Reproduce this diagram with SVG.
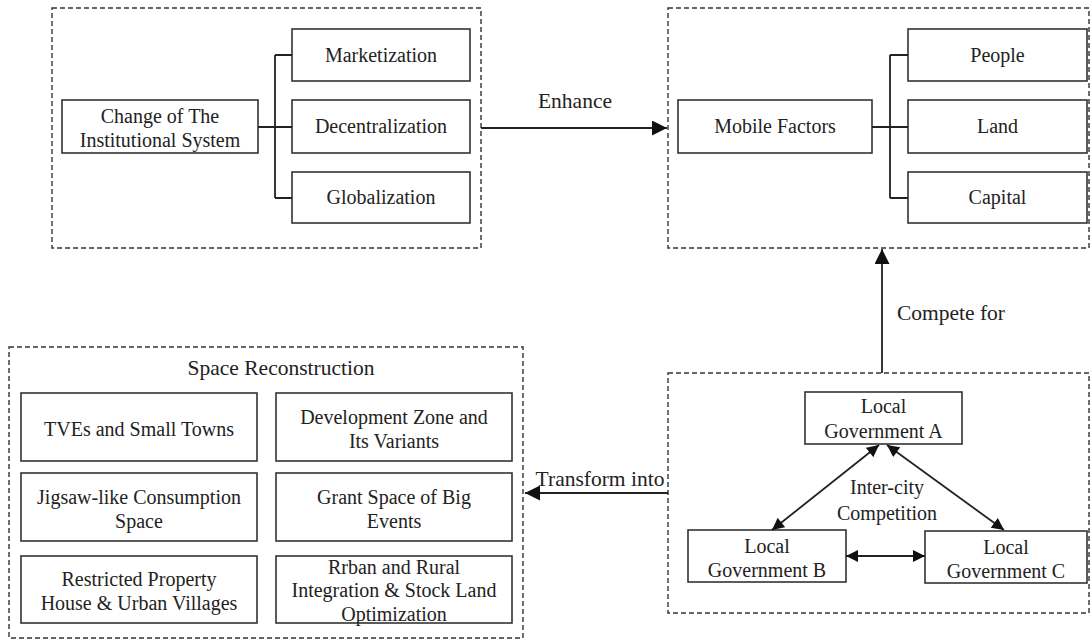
<svg xmlns="http://www.w3.org/2000/svg" width="1092" height="642" viewBox="0 0 1092 642">
<style>
.dash{fill:none;stroke:#333;stroke-width:1.4;stroke-dasharray:5 3}
.box{fill:#fff;stroke:#333;stroke-width:1.6}
.ln{fill:none;stroke:#222;stroke-width:1.8}
.t{font-family:"Liberation Serif","Times New Roman",serif;font-size:20px;fill:#222;text-anchor:middle}
.lb{font-family:"Liberation Serif","Times New Roman",serif;font-size:21.5px;fill:#222;text-anchor:middle}
</style>
<defs>
<marker id="ah" viewBox="0 0 10 10" refX="10" refY="5" markerWidth="17" markerHeight="15" markerUnits="userSpaceOnUse" orient="auto-start-reverse">
<path d="M0,0 L10,5 L0,10 Z" fill="#111"/>
</marker>
<marker id="ah2" viewBox="0 0 10 10" refX="10" refY="5" markerWidth="13" markerHeight="12" markerUnits="userSpaceOnUse" orient="auto-start-reverse">
<path d="M0,0 L10,5 L0,10 Z" fill="#111"/>
</marker>
</defs>
<rect width="1092" height="642" fill="#fff"/>

<g id="group-institutional">
<rect class="dash" x="52" y="8" width="429" height="240"/>
<g id="change">
<rect class="box" x="62" y="100" width="196" height="53"/>
<text class="t" x="160" y="123">Change of The</text>
<text class="t" x="160" y="147">Institutional System</text>
</g>
<g id="marketization">
<rect class="box" x="292" y="29" width="178" height="52"/>
<text class="t" x="381" y="62">Marketization</text>
</g>
<g id="decentralization">
<rect class="box" x="292" y="100" width="178" height="53"/>
<text class="t" x="381" y="133">Decentralization</text>
</g>
<g id="globalization">
<rect class="box" x="292" y="172" width="178" height="51"/>
<text class="t" x="381" y="204">Globalization</text>
</g>
</g>

<g id="group-mobile">
<rect class="dash" x="668" y="8" width="421" height="240"/>
<g id="mobile">
<rect class="box" x="678" y="100" width="194" height="53"/>
<text class="t" x="775" y="133">Mobile Factors</text>
</g>
<g id="people">
<rect class="box" x="908" y="29" width="179" height="52"/>
<text class="t" x="997.5" y="62">People</text>
</g>
<g id="land">
<rect class="box" x="908" y="100" width="179" height="53"/>
<text class="t" x="997.5" y="133">Land</text>
</g>
<g id="capital">
<rect class="box" x="908" y="172" width="179" height="51"/>
<text class="t" x="997.5" y="204">Capital</text>
</g>
</g>

<g id="group-space">
<rect class="dash" x="9" y="347" width="514" height="291"/>
<text class="lb" x="281" y="375">Space Reconstruction</text>
<g id="tves">
<rect class="box" x="21" y="393" width="236" height="68"/>
<text class="t" x="139" y="436">TVEs and Small Towns</text>
</g>
<g id="devzone">
<rect class="box" x="276" y="393" width="236" height="68"/>
<text class="t" x="394" y="424">Development Zone and</text>
<text class="t" x="394" y="448">Its Variants</text>
</g>
<g id="jigsaw">
<rect class="box" x="21" y="473" width="236" height="68"/>
<text class="t" x="139" y="504">Jigsaw-like Consumption</text>
<text class="t" x="139" y="528">Space</text>
</g>
<g id="grant">
<rect class="box" x="276" y="473" width="236" height="68"/>
<text class="t" x="394" y="504">Grant Space of Big</text>
<text class="t" x="394" y="528">Events</text>
</g>
<g id="restricted">
<rect class="box" x="21" y="556" width="236" height="67"/>
<text class="t" x="139" y="586">Restricted Property</text>
<text class="t" x="139" y="610">House &amp; Urban Villages</text>
</g>
<g id="rrban">
<rect class="box" x="276" y="556" width="236" height="67"/>
<text class="t" x="394" y="574">Rrban and Rural</text>
<text class="t" x="394" y="597">Integration &amp; Stock Land</text>
<text class="t" x="394" y="621">Optimization</text>
</g>
</g>

<g id="group-government">
<rect class="dash" x="668" y="373" width="421" height="240"/>
<text class="t" x="887" y="494">Inter-city</text>
<text class="t" x="887" y="520">Competition</text>
<g id="gov-a">
<rect class="box" x="805" y="392" width="157" height="52"/>
<text class="t" x="883.5" y="413">Local</text>
<text class="t" x="883.5" y="438">Government A</text>
</g>
<g id="gov-b">
<rect class="box" x="688" y="530" width="158" height="52"/>
<text class="t" x="767" y="553">Local</text>
<text class="t" x="767" y="577">Government B</text>
</g>
<g id="gov-c">
<rect class="box" x="925" y="531" width="162" height="52"/>
<text class="t" x="1006" y="554">Local</text>
<text class="t" x="1006" y="578">Government C</text>
</g>
</g>

<g id="connectors">
<path class="ln" d="M258,127 H292 M275,55 V198 M275,55 H292 M275,198 H292"/>
<path class="ln" d="M872,127 H908 M890,55 V198 M890,55 H908 M890,198 H908"/>
<path class="ln" d="M481,128 H667" marker-end="url(#ah)"/>
<text class="lb" x="575" y="108">Enhance</text>
<path class="ln" d="M882,373 V249" marker-end="url(#ah)"/>
<text class="lb" x="951" y="320">Compete for</text>
<path class="ln" d="M668,493 H525" marker-end="url(#ah)"/>
<text class="lb" x="600" y="486">Transform into</text>
<path class="ln" d="M772,530 L879,445" marker-start="url(#ah2)" marker-end="url(#ah2)"/>
<path class="ln" d="M1004,530 L887,445" marker-start="url(#ah2)" marker-end="url(#ah2)"/>
<path class="ln" d="M846,556 H925" marker-start="url(#ah2)" marker-end="url(#ah2)"/>
</g>
</svg>
